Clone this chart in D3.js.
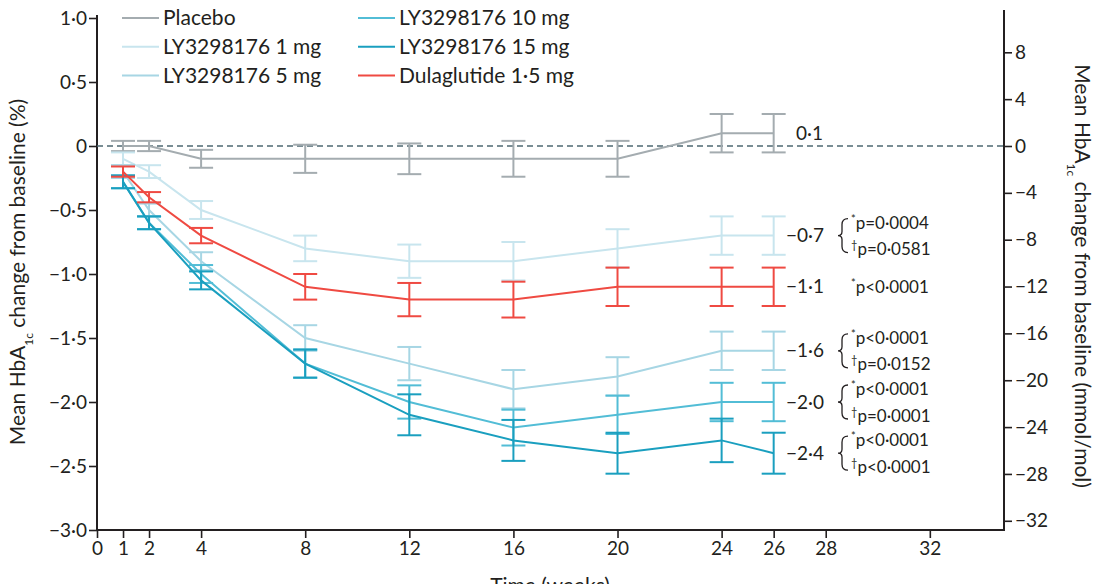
<!DOCTYPE html>
<html>
<head>
<meta charset="utf-8">
<script src="https://cdn.jsdelivr.net/npm/d3@7"></script>
<style>
  body { margin: 0; background: #fff; }
  svg { font-family: Lato, "Open Sans", sans-serif; }
</style>
</head>
<body>
<svg id="chart" width="1099" height="584"></svg>
<script>
// weeks with measurements
const weeks = [1, 2, 4, 8, 12, 16, 20, 24, 26]

// mean change in HbA1c (%) and half-width of error bars
const placebo      = [0.0, -0.0, -0.1, -0.1, -0.1, -0.1, -0.1, 0.1, 0.1]
const placeboErr   = [0.04, 0.04, 0.07, 0.11, 0.12, 0.14, 0.14, 0.15, 0.15]
const ly1mg        = [-0.1, -0.2, -0.5, -0.8, -0.9, -0.9, -0.8, -0.7, -0.7]
const ly1mgErr     = [0.05, 0.05, 0.07, 0.1, 0.13, 0.15, 0.15, 0.15, 0.15]
const ly5mg        = [-0.2, -0.5, -0.9, -1.5, -1.7, -1.9, -1.8, -1.6, -1.6]
const ly5mgErr     = [0.05, 0.05, 0.07, 0.1, 0.13, 0.15, 0.15, 0.15, 0.15]
const ly10mg       = [-0.28, -0.6, -1.0, -1.7, -2.0, -2.2, -2.1, -2.0, -2.0]
const ly10mgErr    = [0.05, 0.05, 0.07, 0.11, 0.13, 0.14, 0.15, 0.15, 0.15]
const ly15mg       = [-0.28, -0.6, -1.05, -1.7, -2.1, -2.3, -2.4, -2.3, -2.4]
const ly15mgErr    = [0.05, 0.05, 0.07, 0.11, 0.16, 0.16, 0.16, 0.17, 0.16]
const dula         = [-0.2, -0.4, -0.7, -1.1, -1.2, -1.2, -1.1, -1.1, -1.1]
const dulaErr      = [0.04, 0.04, 0.06, 0.1, 0.13, 0.14, 0.15, 0.15, 0.15]

const seriesNames = ["Placebo", "LY3298176 1 mg", "LY3298176 5 mg",
                     "LY3298176 10 mg", "LY3298176 15 mg", "Dulaglutide 1·5 mg"]
const seriesColors = ["#a4acb0", "#c8e5ee", "#a7d6e4", "#52bdd6", "#1a9fbf", "#ef4a42"]

// end-of-study labels and p values
const endLabels = ["0·1", "−0·7", "−1·6", "−2·0", "−2·4", "−1·1"]
const pStar   = [null, "p=0·0004", "p<0·0001", "p<0·0001", "p<0·0001", "p<0·0001"]
const pDagger = [null, "p=0·0581", "p=0·0152", "p=0·0001", "p<0·0001", null]

const xTicks = [0, 1, 2, 4, 8, 12, 16, 20, 24, 26, 28, 32]
const yTicks = [1, 0.5, 0, -0.5, -1, -1.5, -2, -2.5, -3]
const yRightTicks = [8, 4, 0, -4, -8, -12, -16, -20, -24, -28, -32]

const series = [
  {name: seriesNames[0], color: seriesColors[0], values: placebo, err: placeboErr},
  {name: seriesNames[1], color: seriesColors[1], values: ly1mg, err: ly1mgErr},
  {name: seriesNames[2], color: seriesColors[2], values: ly5mg, err: ly5mgErr},
  {name: seriesNames[3], color: seriesColors[3], values: ly10mg, err: ly10mgErr},
  {name: seriesNames[4], color: seriesColors[4], values: ly15mg, err: ly15mgErr},
  {name: seriesNames[5], color: seriesColors[5], values: dula, err: dulaErr}
]
series.forEach((s, i) => {
  s.end = endLabels[i]
  s.pStar = pStar[i]
  s.pDagger = pDagger[i]
})

const svg = d3.select("#chart")
const ink = "#231f20"

const x = d3.scaleLinear().domain([0, 34.85]).range([97, 1004])
const y = d3.scaleLinear().domain([-3, 1]).range([530, 18])
const toMmol = 10.929
const yR = d3.scaleLinear().domain([-3 * toMmol, 1 * toMmol]).range([530, 18])

const fmt = d => d === 0 ? "0" : d3.format(".1f")(d).replace(".", "·").replace("-", "−")

// left axis
const gl = svg.append("g")
  .attr("transform", "translate(" + x(0) + ",0)")
  .call(d3.axisLeft(y).tickValues(yTicks).tickSize(8).tickSizeOuter(0).tickFormat(fmt))
gl.select(".domain").remove()
gl.append("line").attr("y1", y(1) - 3).attr("y2", y(-3)).attr("stroke", ink).attr("stroke-width", 2)

// right axis
const gr = svg.append("g")
  .attr("transform", "translate(" + x(34.85) + ",0)")
  .call(d3.axisRight(yR).tickValues(yRightTicks).tickSize(8).tickSizeOuter(0)
    .tickFormat(d => String(d).replace("-", "−")))
gr.select(".domain").remove()
gr.append("line").attr("y1", 10).attr("y2", y(-3)).attr("stroke", ink).attr("stroke-width", 2)

// bottom axis
const gb = svg.append("g")
  .attr("transform", "translate(0," + y(-3) + ")")
  .call(d3.axisBottom(x).tickValues(xTicks).tickSize(8).tickSizeOuter(0))
gb.select(".domain").remove()
gb.append("line").attr("x1", x(0) - 1).attr("x2", x(34.85) + 1).attr("stroke", ink).attr("stroke-width", 2)

svg.selectAll(".tick line").attr("stroke", ink).attr("stroke-width", 1.6)
svg.selectAll(".tick text").attr("fill", ink).style("font-size", "19px")
  .style("font-family", "Lato, sans-serif")
gl.selectAll(".tick text").attr("x", -10)
gr.selectAll(".tick text").attr("x", 11)
gb.selectAll(".tick text").attr("y", 12)

// zero reference line
svg.append("line")
  .attr("x1", x(0)).attr("x2", x(34.85))
  .attr("y1", y(0)).attr("y2", y(0))
  .attr("stroke", "#4d6872").attr("stroke-width", 1.4)
  .attr("stroke-dasharray", "6,4")

// axis titles
const leftTitle = svg.append("text")
  .attr("transform", "translate(25," + (y(-1.0) - 2) + ") rotate(-90)")
  .attr("text-anchor", "middle").attr("fill", ink).style("font-size", "21px")
leftTitle.append("tspan").text("Mean HbA")
leftTitle.append("tspan").text("1c").attr("baseline-shift", "sub").style("font-size", "12px")
leftTitle.append("tspan").text(" change from baseline (%)")

const rightTitle = svg.append("text")
  .attr("transform", "translate(1075," + (y(-1.0) + 2) + ") rotate(90)")
  .attr("text-anchor", "middle").attr("fill", ink).style("font-size", "21px")
rightTitle.append("tspan").text("Mean HbA")
rightTitle.append("tspan").text("1c").attr("baseline-shift", "sub").style("font-size", "12px")
rightTitle.append("tspan").text(" change from baseline (mmol/mol)")

svg.append("text")
  .attr("x", 550).attr("y", 593)
  .attr("text-anchor", "middle").attr("fill", ink).style("font-size", "21px")
  .text("Time (weeks)")

// series lines and error bars
const line = d3.line()
  .x((d, i) => x(weeks[i]))
  .y(d => y(d))

const cap = 12
const gs = svg.selectAll("g.series")
  .data(series)
  .enter()
  .append("g")
  .attr("class", "series")

gs.append("path")
  .attr("d", d => line(d.values))
  .attr("fill", "none")
  .attr("stroke", d => d.color)
  .attr("stroke-width", 2)

gs.each(function (s) {
  const pts = s.values.map((v, i) => ({w: weeks[i], v: v, e: s.err[i]}))
  const eb = d3.select(this).selectAll("g.err")
    .data(pts)
    .enter()
    .append("g")
    .attr("stroke", s.color)
    .attr("stroke-width", 2)
  eb.append("line")
    .attr("x1", d => x(d.w)).attr("x2", d => x(d.w))
    .attr("y1", d => y(d.v + d.e)).attr("y2", d => y(d.v - d.e))
  eb.append("line")
    .attr("x1", d => x(d.w) - cap).attr("x2", d => x(d.w) + cap)
    .attr("y1", d => y(d.v + d.e)).attr("y2", d => y(d.v + d.e))
  eb.append("line")
    .attr("x1", d => x(d.w) - cap).attr("x2", d => x(d.w) + cap)
    .attr("y1", d => y(d.v - d.e)).attr("y2", d => y(d.v - d.e))
})

// end labels with p values
const lastIdx = weeks.length - 1
const ann = svg.selectAll("g.ann")
  .data(series)
  .enter()
  .append("g")
  .attr("class", "ann")
  .attr("transform", d => "translate(0," + y(d.values[lastIdx]) + ")")
  .attr("fill", ink)
  .style("font-size", "19px")

ann.append("text")
  .attr("x", d => d.end.startsWith("−") ? 786 : 796)
  .attr("dy", "0.35em")
  .text(d => d.end)

function pText(sel, mark, str, dy) {
  const t = sel.append("text").attr("x", 851).attr("dy", dy).style("font-size", "17px")
  t.append("tspan").text(mark).attr("baseline-shift", "super").style("font-size", "11px")
  t.append("tspan").text(str)
}

ann.each(function (d) {
  const g = d3.select(this)
  if (d.pStar && d.pDagger) {
    pText(g, "*", d.pStar, "-0.4em")
    pText(g, "†", d.pDagger, "1.15em")
    const bx = 840, h = 17, w = 8
    g.append("path")
      .attr("d", `M${bx + w},${-h} Q${bx + 2},${-h} ${bx + 2},${-h + 6} L${bx + 2},-4 Q${bx + 2},0 ${bx - 2},0 ` +
                 `Q${bx + 2},0 ${bx + 2},4 L${bx + 2},${h - 6} Q${bx + 2},${h} ${bx + w},${h}`)
      .attr("fill", "none").attr("stroke", ink).attr("stroke-width", 1.3)
  } else if (d.pStar) {
    pText(g, "*", d.pStar, "0.35em")
  }
})

// legend
const legCols = [122, 358]
const legend = svg.selectAll("g.legend")
  .data(series)
  .enter()
  .append("g")
  .attr("class", "legend")
  .attr("transform", (d, i) => "translate(" + legCols[Math.floor(i / 3)] + "," + (18 + (i % 3) * 28.7) + ")")

legend.append("line")
  .attr("x1", 0).attr("x2", 37)
  .attr("stroke", d => d.color).attr("stroke-width", 2)

legend.append("text")
  .attr("x", 41).attr("dy", "0.35em")
  .attr("fill", ink).style("font-size", "21px")
  .text(d => d.name)
</script>
</body>
</html>
